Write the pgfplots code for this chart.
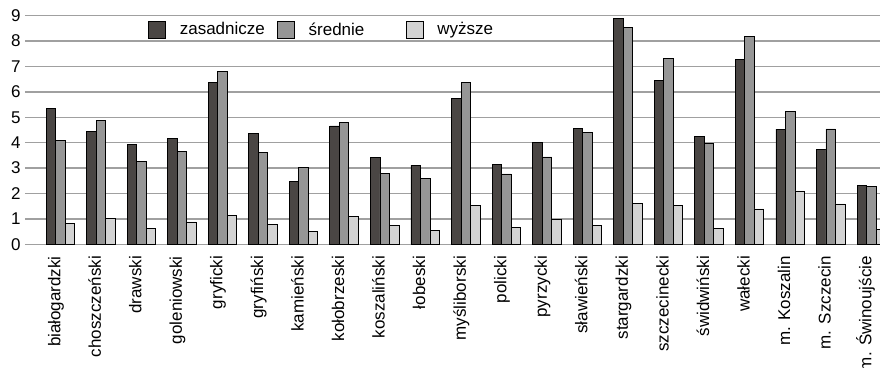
\documentclass[border=0pt]{standalone}
\usepackage{fontspec}
\setmainfont{Liberation Sans}
\usepackage{pgfplots}
\pgfplotsset{compat=1.18}
\definecolor{cDark}{HTML}{4A4644}
\definecolor{cMid}{HTML}{969696}
\definecolor{cLight}{HTML}{D3D3D3}
\definecolor{cGrid}{HTML}{A0A0A0}
\begin{document}
\begin{tikzpicture}
\useasboundingbox (-25pt,-122.7pt) rectangle (855pt,244.3pt);
\clip (-25pt,-122.7pt) rectangle (855pt,244.3pt);
\begin{axis}[
  at={(0pt,0pt)}, anchor=south west,
  scale only axis, width=855pt, height=228.6pt,
  xmin=-0.8705, xmax=20.215, ymin=0, ymax=9,
  ybar=0pt, bar width=9.5pt,
  xtick={0,...,20},
  xticklabels={białogardzki,choszczeński,drawski,goleniowski,gryficki,gryfiński,kamieński,kołobrzeski,koszaliński,łobeski,myśliborski,policki,pyrzycki,sławieński,stargardzki,szczecinecki,świdwiński,wałecki,m. Koszalin,m. Szczecin,m. Świnoujście},
  ytick={0,...,9},
  ymajorgrids, major grid style={draw=cGrid, line width=1.5pt},
  axis line style={draw=none},
  major tick length=0pt,
  tick label style={font=\fontsize{17}{20}\selectfont, inner sep=0pt},
  xticklabel style={rotate=90, anchor=base east},
  yticklabel style={anchor=east},
  xticklabel shift=11.7pt, yticklabel shift=4.3pt,
  /pgf/number format/assume math mode=true,
  legend image code/.code={\draw[#1] (0pt,-8.5pt) rectangle (17pt,8.5pt);},
  legend style={at={(rel axis cs:0.1439,0.9396)}, anchor=west, draw=none, fill=none,
    inner sep=0pt, outer sep=0pt, legend columns=-1,
    font=\fontsize{17}{20}\selectfont,
    nodes={inner sep=0pt, anchor=west},
    /tikz/every odd column/.append style={column sep=14pt},
    /tikz/every even column/.append style={column sep=0pt}},
]
\addplot[fill=cDark, draw=black, line width=0.8pt] coordinates {
(0,5.35) (1,4.45) (2,3.94) (3,4.17) (4,6.38) (5,4.37) (6,2.46) (7,4.66) (8,3.43) (9,3.11)
(10,5.75) (11,3.16) (12,4.02) (13,4.55) (14,8.90) (15,6.46) (16,4.25) (17,7.28) (18,4.53) (19,3.74) (20,2.31)};
\addlegendentry{\makebox[97pt][l]{zasadnicze}}
\addplot[fill=cMid, draw=black, line width=0.8pt] coordinates {
(0,4.08) (1,4.87) (2,3.25) (3,3.66) (4,6.81) (5,3.63) (6,3.03) (7,4.80) (8,2.78) (9,2.60)
(10,6.38) (11,2.77) (12,3.44) (13,4.41) (14,8.54) (15,7.33) (16,3.96) (17,8.19) (18,5.22) (19,4.54) (20,2.27)};
\addlegendentry{\makebox[97pt][l]{średnie}}
\addplot[fill=cLight, draw=black, line width=0.8pt] coordinates {
(0,0.81) (1,1.01) (2,0.63) (3,0.88) (4,1.14) (5,0.79) (6,0.51) (7,1.11) (8,0.73) (9,0.56)
(10,1.54) (11,0.67) (12,1.00) (13,0.75) (14,1.61) (15,1.52) (16,0.63) (17,1.39) (18,2.10) (19,1.59) (20,0.59)};
\addlegendentry{\makebox[97pt][l]{wyższe}}
\end{axis}
\end{tikzpicture}
\end{document}
